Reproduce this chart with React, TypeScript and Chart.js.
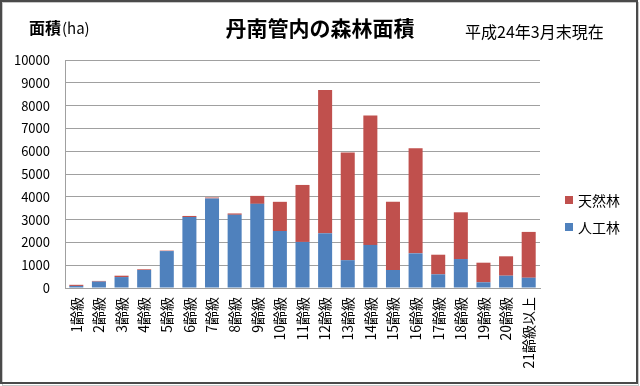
import React, { useEffect, useRef } from 'react';
import { Chart, registerables } from 'chart.js';

Chart.register(...registerables);

const categories = [
  '1齢級', '2齢級', '3齢級', '4齢級', '5齢級', '6齢級', '7齢級', '8齢級', '9齢級', '10齢級',
  '11齢級', '12齢級', '13齢級', '14齢級', '15齢級', '16齢級', '17齢級', '18齢級', '19齢級', '20齢級', '21齢級以上',
];
const plantedValues = [90, 280, 480, 790, 1620, 3110, 3930, 3210, 3690, 2500, 2020, 2400, 1220, 1890, 790, 1520, 600, 1270, 250, 540, 450];
const naturalValues = [50, 30, 60, 30, 20, 50, 40, 60, 350, 1280, 2500, 6280, 4720, 5680, 2990, 4610, 860, 2050, 860, 850, 2010];
const seriesNames = ['人工林', '天然林'];
const seriesColors = ['#4f81bd', '#c0504d'];
const yMin = 0;
const yMax = 10000;
const yStep = 1000;
const titleText = '丹南管内の森林面積';
const unitText = '面積';
const unitSuffix = '(ha)';
const dateText = '平成24年3月末現在';

const FONT = '"Noto Sans CJK JP", "Noto Sans", sans-serif';

const decorPlugin = {
  id: 'decor',
  beforeDraw(chart: any) {
    const ctx = chart.ctx;
    ctx.save();
    ctx.fillStyle = '#ffffff';
    ctx.fillRect(0, 0, chart.width, chart.height);
    ctx.restore();
  },
  afterDraw(chart: any) {
    const ctx = chart.ctx;
    ctx.save();
    // outer border
    ctx.strokeStyle = '#c8c8c8';
    ctx.lineWidth = 1;
    ctx.strokeRect(2.5, 2.5, 636, 383);
    ctx.strokeStyle = '#4a4a4a';
    ctx.lineWidth = 2;
    ctx.strokeRect(1, 1, 636, 382);

    ctx.fillStyle = '#000';
    ctx.textBaseline = 'middle';
    // title
    ctx.font = `bold 21px ${FONT}`;
    ctx.textAlign = 'center';
    ctx.fillText(titleText, 320, 28);
    // unit
    ctx.textAlign = 'left';
    ctx.font = `bold 16px ${FONT}`;
    ctx.fillText(unitText, 29, 28);
    const w = ctx.measureText(unitText).width;
    ctx.font = `15px ${FONT}`;
    ctx.fillText(unitSuffix, 29 + w + 1, 28);
    // date
    ctx.font = `16px ${FONT}`;
    ctx.fillText(dateText, 465, 32);

    // legend (reverse order as in the reference)
    const ds = chart.data.datasets;
    const order = [1, 0];
    const ys = [200, 227];
    ctx.font = `14px ${FONT}`;
    order.forEach((idx, i) => {
      const d = ds[idx];
      ctx.fillStyle = d.backgroundColor;
      ctx.fillRect(565, ys[i] - 4, 8, 8);
      ctx.fillStyle = '#000';
      ctx.fillText(d.label, 578, ys[i] + 1);
    });
    ctx.restore();
  },
};

export default function App() {
  const ref = useRef<HTMLCanvasElement | null>(null);
  useEffect(() => {
    document.body.style.margin = '0';
    const canvas = ref.current;
    if (!canvas) return;
    const chart = new Chart(canvas, {
      type: 'bar',
      data: {
        labels: categories,
        datasets: [
          {
            label: seriesNames[0],
            data: plantedValues,
            backgroundColor: seriesColors[0],
            barPercentage: 0.62,
            categoryPercentage: 1,
          },
          {
            label: seriesNames[1],
            data: naturalValues,
            backgroundColor: seriesColors[1],
            barPercentage: 0.62,
            categoryPercentage: 1,
          },
        ],
      },
      options: {
        responsive: false,
        animation: false,
        devicePixelRatio: 1,
        layout: { padding: { left: 8, right: 100, top: 60, bottom: 0 } },
        plugins: {
          legend: { display: false },
          title: { display: false },
          tooltip: { enabled: false },
        },
        scales: {
          x: {
            stacked: true,
            grid: { display: false, drawTicks: false },
            border: { display: true, color: '#a0a0a0', width: 1 },
            ticks: {
              autoSkip: false,
              minRotation: 90,
              maxRotation: 90,
              padding: 9,
              color: '#000',
              font: { family: FONT, size: 14 },
            },
            afterFit: (scale: any) => {
              scale.height = 98;
            },
          },
          y: {
            stacked: true,
            min: yMin,
            max: yMax,
            grid: { color: '#a0a0a0', lineWidth: 1, drawTicks: false },
            border: { display: true, color: '#a0a0a0', width: 1 },
            ticks: {
              stepSize: yStep,
              padding: 15,
              color: '#000',
              font: { family: FONT, size: 13 },
              callback: (v: any) => String(v),
            },
            afterFit: (scale: any) => {
              scale.width = 57;
            },
          },
        },
      },
      plugins: [decorPlugin],
    });
    return () => chart.destroy();
  }, []);
  return (
    <div style={{ position: 'absolute', left: 0, top: 0 }}>
      <canvas ref={ref} width={640} height={386} style={{ display: 'block' }} />
    </div>
  );
}
